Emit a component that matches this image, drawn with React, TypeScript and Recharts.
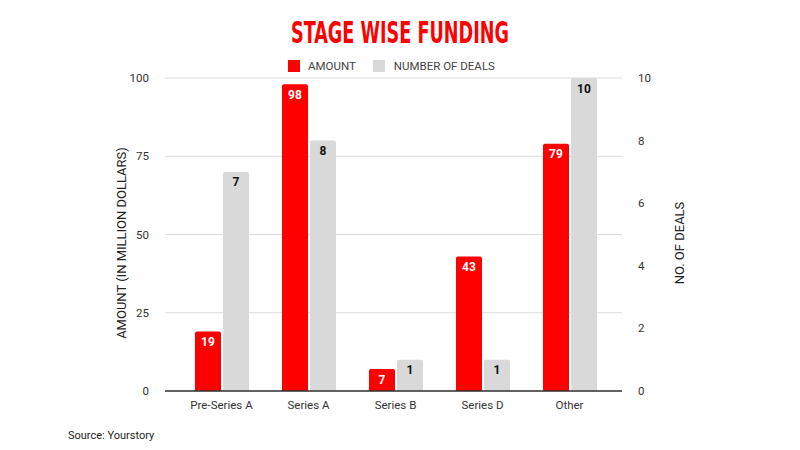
import { Bar, ComposedChart, CartesianGrid, LabelList, XAxis, YAxis } from 'recharts';

const categories = ['Pre-Series A', 'Series A', 'Series B', 'Series D', 'Other'];
const amountValues = [19, 98, 7, 43, 79];
const dealValues = [7, 8, 1, 1, 10];
const amountTicks = [0, 25, 50, 75, 100];
const dealTicks = [0, 2, 4, 6, 8, 10];

const RED = '#ff0000';
const GREY = '#d9d9d9';
const FONT = 'Roboto, "Noto Sans", sans-serif';

const data = categories.map((name, i) => ({
  name,
  amount: amountValues[i],
  deals: dealValues[i],
}));

// rotated axis titles, centred a little under the plot middle like the original
const LeftTitle = (props: any) => {
  const { viewBox } = props;
  const cx = viewBox.x - 4;
  const cy = 243;
  return (
    <text
      x={cx}
      y={cy}
      transform={`rotate(-90 ${cx} ${cy})`}
      textAnchor="middle"
      dominantBaseline="central"
      fontFamily={FONT}
      fontSize={13}
      fill="#222"
    >
      AMOUNT (IN MILLION DOLLARS)
    </text>
  );
};

const RightTitle = (props: any) => {
  const { viewBox } = props;
  const cx = viewBox.x + 57;
  const cy = 243;
  return (
    <text
      x={cx}
      y={cy}
      transform={`rotate(-90 ${cx} ${cy})`}
      textAnchor="middle"
      dominantBaseline="central"
      fontFamily={FONT}
      fontSize={13}
      fill="#222"
    >
      NO. OF DEALS
    </text>
  );
};

export default function App() {
  return (
    <div style={{ position: 'absolute', left: 0, top: 0, width: 800, height: 450, background: '#fff' }}>
      <svg width={800} height={50} style={{ position: 'absolute', left: 0, top: 0 }}>
        <text
          x={400}
          y={43}
          textAnchor="middle"
          fontFamily='"DejaVu Sans Condensed", "DejaVu Sans", sans-serif'
          fontWeight="bold"
          fontSize={30}
          fill={RED}
          textLength={218}
          lengthAdjust="spacingAndGlyphs"
        >
          STAGE WISE FUNDING
        </text>
      </svg>

      {/* legend */}
      <div
        style={{
          position: 'absolute',
          top: 59,
          left: 288,
          display: 'flex',
          alignItems: 'center',
          fontFamily: FONT,
          fontSize: 11.5,
          color: '#444',
        }}
      >
        <span style={{ width: 12, height: 12, background: RED, display: 'inline-block', marginRight: 8 }} />
        <span style={{ marginRight: 17 }}>AMOUNT</span>
        <span style={{ width: 12, height: 12, background: GREY, display: 'inline-block', marginRight: 9 }} />
        <span>NUMBER OF DEALS</span>
      </div>

      <ComposedChart
        width={800}
        height={450}
        data={data}
        margin={{ top: 78, right: 138, bottom: 29, left: 125 }}
        barSize={26}
        barGap={2}
      >
        <CartesianGrid yAxisId="left" vertical={false} stroke="#dcdcdc" />
        <XAxis
          dataKey="name"
          padding={{ left: 13, right: 9 }}
          tickLine={false}
          axisLine={{ stroke: '#333', strokeWidth: 1.5 }}
          tick={{ fontSize: 11.5, fill: '#333', fontFamily: FONT }}
          tickMargin={4}
          height={30}
        />
        <YAxis
          yAxisId="left"
          domain={[0, 100]}
          ticks={amountTicks}
          axisLine={false}
          tickLine={false}
          width={40}
          tickMargin={10}
          tick={{ fontSize: 11.5, fill: '#333', fontFamily: FONT }}
          label={<LeftTitle />}
        />
        <YAxis
          yAxisId="right"
          orientation="right"
          domain={[0, 10]}
          ticks={dealTicks}
          axisLine={false}
          tickLine={false}
          width={40}
          tickMargin={10}
          tick={{ fontSize: 11.5, fill: '#333', fontFamily: FONT }}
          label={<RightTitle />}
        />
        <Bar yAxisId="left" dataKey="amount" fill={RED} radius={[2, 2, 0, 0]} isAnimationActive={false}>
          <LabelList
            dataKey="amount"
            position="insideTop"
            offset={6}
            fill="#fff"
            fontSize={12}
            fontWeight="bold"
            fontFamily={FONT}
          />
        </Bar>
        <Bar yAxisId="right" dataKey="deals" fill={GREY} radius={[2, 2, 0, 0]} isAnimationActive={false}>
          <LabelList
            dataKey="deals"
            position="insideTop"
            offset={6}
            fill="#111"
            fontSize={12}
            fontWeight="bold"
            fontFamily={FONT}
          />
        </Bar>
      </ComposedChart>

      <div style={{ position: 'absolute', left: 68, top: 429, fontFamily: FONT, fontSize: 11, color: '#222' }}>
        Source: Yourstory
      </div>
    </div>
  );
}
